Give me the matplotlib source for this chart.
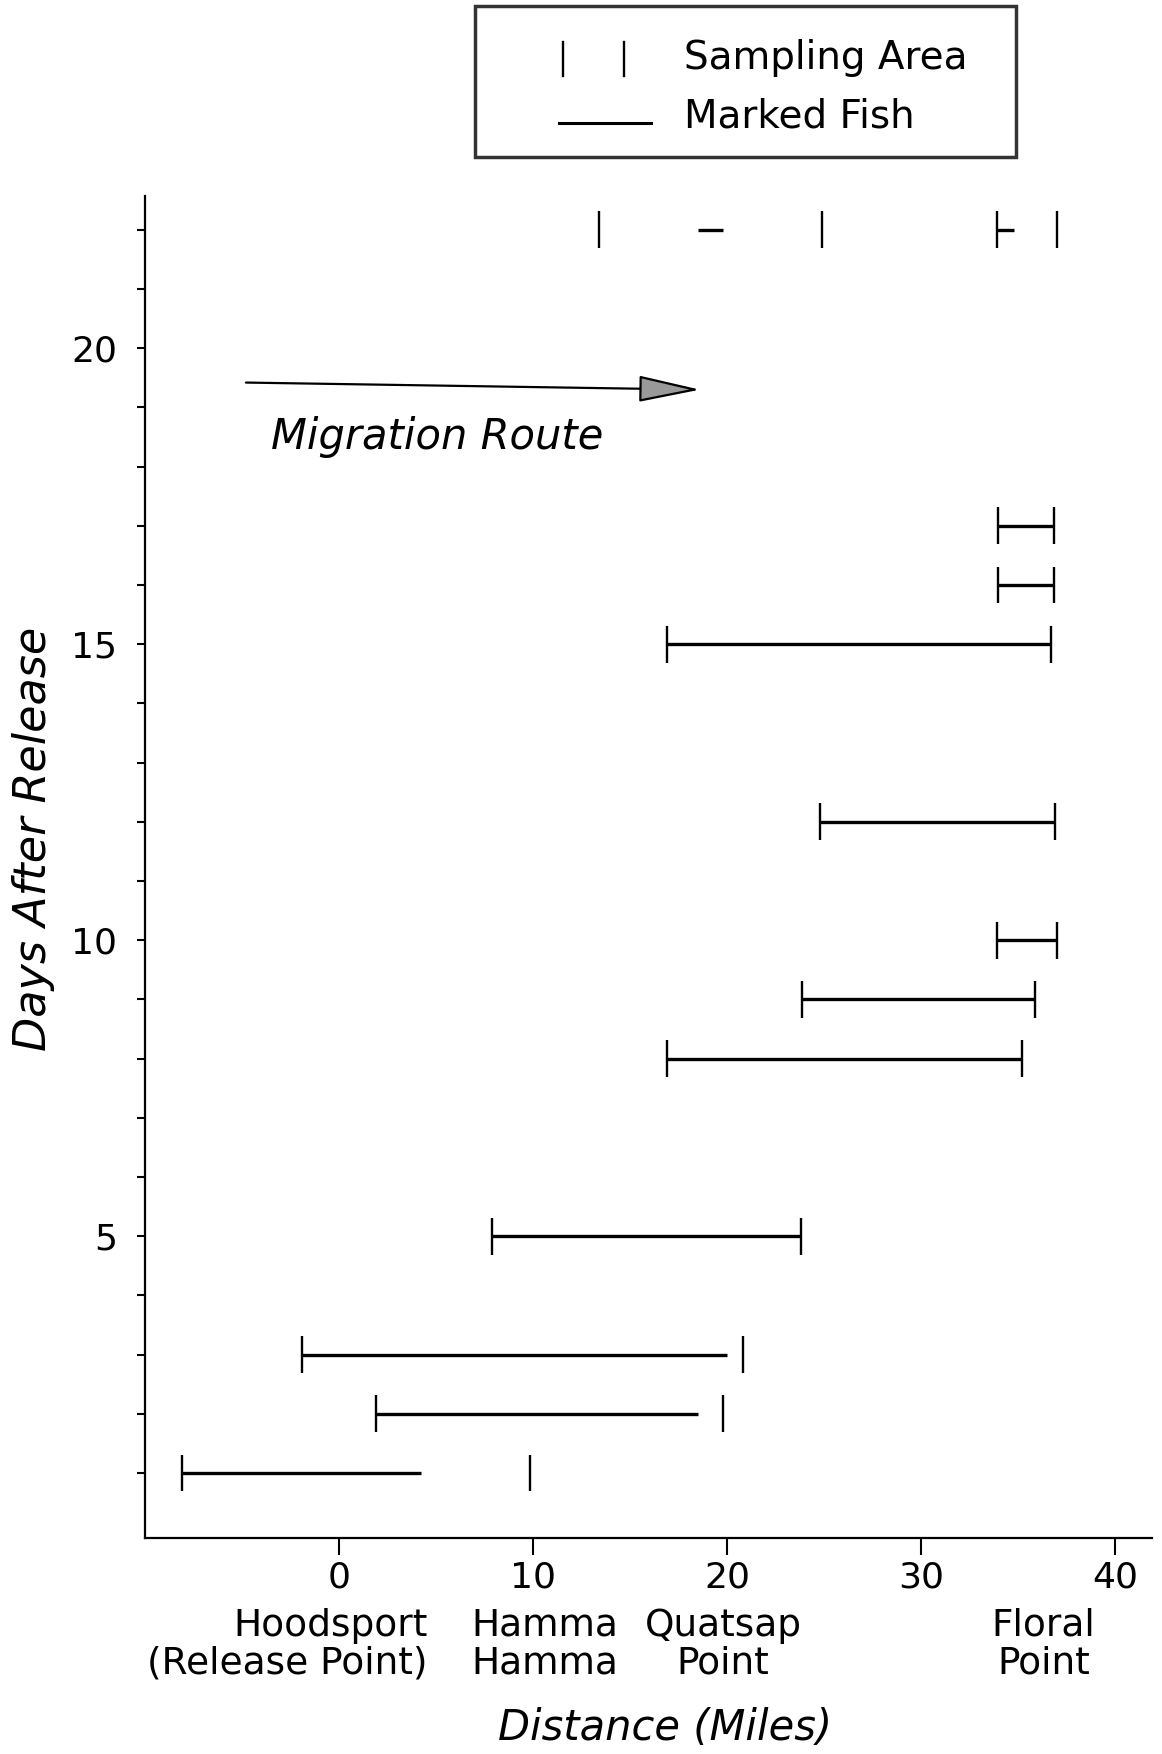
import matplotlib.pyplot as plt
from matplotlib.patches import Rectangle
from matplotlib.lines import Line2D

# sampling records (miles from Hoodsport)
days = [1, 2, 3, 5, 8, 9, 10, 12, 15, 16, 17, 22, 22]
area_lo = [-8.1, 1.9, -1.9, 7.9, 16.9, 23.85, 33.9, 24.8, 16.9, 33.95, 33.95, 13.4, 33.9]
area_hi = [9.85, 19.8, 20.8, 23.8, 35.2, 35.85, 37.0, 36.9, 36.7, 36.85, 36.85, 24.9, 37.0]
fish_lo = [-8.1, 1.9, -1.9, 7.9, 16.9, 23.85, 33.9, 24.8, 16.9, 33.95, 33.95, 18.5, 33.9]
fish_hi = [4.2, 18.5, 20.0, 23.8, 35.2, 35.85, 37.0, 36.9, 36.7, 36.85, 36.85, 19.8, 34.8]

x_ticks = [0, 10, 20, 30, 40]
y_major = [5, 10, 15, 20]
y_minor = list(range(1, 23))

places = ["Hoodsport\n(Release Point)", "Hamma\nHamma", "Quatsap\nPoint", "Floral\nPoint"]
place_x = [4.55, 10.6, 19.8, 36.3]

fig = plt.figure(figsize=(11.62, 17.54), dpi=100)
ax = fig.add_axes([0.1248, 0.1231, 0.8666, 0.7651])

for d, alo, ahi, flo, fhi in zip(days, area_lo, area_hi, fish_lo, fish_hi):
    ax.vlines([alo, ahi], d - 0.31, d + 0.31, color="black", lw=1.7)
    ax.hlines(d, flo, fhi, color="black", lw=2.4)

ax.set_xlim(-10, 41.9)
ax.set_ylim(-0.1, 22.57)
ax.spines["top"].set_visible(False)
ax.spines["right"].set_visible(False)
ax.spines["left"].set_linewidth(1.6)
ax.spines["bottom"].set_linewidth(1.6)

ax.set_xticks(x_ticks)
ax.set_xticklabels([str(v) for v in x_ticks])
ax.set_yticks(y_major)
ax.set_yticklabels([str(v) for v in y_major])
ax.set_yticks(y_minor, minor=True)
ax.tick_params(axis="x", length=12, width=1.5, labelsize=26, pad=4)
ax.tick_params(axis="y", which="both", length=6, width=1.5, labelsize=26, pad=14)

trans = ax.get_xaxis_transform()
for name, xp in zip(places, place_x):
    ha = "right" if xp == place_x[0] else "center"
    ax.text(xp, -0.052, name, transform=trans, ha=ha, va="top",
            multialignment=ha, fontsize=27, linespacing=1.05)

ax.text(0.516, -0.1415, "Distance (Miles)", transform=ax.transAxes, ha="center",
        va="center", fontsize=30, style="italic")
fig.text(0.029, 0.522, "Days After Release", rotation=90, ha="center",
         va="center", fontsize=32, style="italic")

# migration arrow
ax.annotate("", xy=(18.6, 19.3), xytext=(-4.8, 19.42),
            arrowprops=dict(arrowstyle="-|>,head_length=1.3,head_width=0.28",
                            mutation_scale=30, fc="#999999", ec="black",
                            lw=1.6, shrinkA=0, shrinkB=0))
ax.text(-3.5, 18.5, "Migration Route", ha="left", va="center",
        fontsize=30, style="italic")

# legend box drawn by hand
fig.patches.append(Rectangle((0.409, 0.9105), 0.465, 0.0861, transform=fig.transFigure,
                             fill=False, ec="#333333", lw=2.5))
for lx in [563 / 1162, 624 / 1162]:
    fig.lines.append(Line2D([lx, lx], [1 - 42 / 1754, 1 - 76 / 1754],
                            transform=fig.transFigure, color="black", lw=1.7))
fig.lines.append(Line2D([559 / 1162, 651 / 1162], [1 - 123 / 1754, 1 - 123 / 1754],
                        transform=fig.transFigure, color="black", lw=2.2))
fig.text(684 / 1162, 1 - 58 / 1754, "Sampling Area", ha="left", va="center", fontsize=28)
fig.text(684 / 1162, 1 - 117 / 1754, "Marked Fish", ha="left", va="center", fontsize=28)

plt.savefig("out.png", dpi=100)
